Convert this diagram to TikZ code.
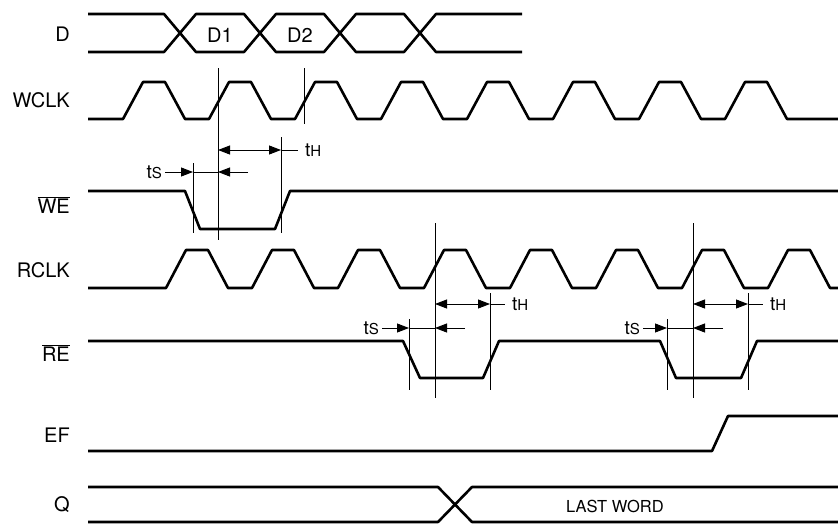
\documentclass[tikz,border=0pt]{standalone}
\usepackage{fontspec}
\setmainfont{TeX Gyre Heros}
\usetikzlibrary{arrows.meta}
\tikzset{
  sig/.style={line width=2.6pt, line join=round},
  vline/.style={line width=0.9pt},
  tarrow/.style={line width=0.9pt, -{Triangle[length=12pt,width=9pt]}},
  tboth/.style={line width=0.9pt, {Triangle[length=12pt,width=9pt]}-{Triangle[length=12pt,width=9pt]}},
  lbl/.style={anchor=east, inner sep=0pt, font=\fontsize{20}{22}\selectfont},
  tlbl/.style={inner sep=0pt, font=\fontsize{19}{21}\selectfont},
}
\newcommand{\tSlbl}{t{\fontsize{15}{16}\selectfont S}}
\newcommand{\tHlbl}{t{\fontsize{15}{16}\selectfont H}}
\begin{document}
\begin{tikzpicture}[x=1pt,y=-1pt]
\useasboundingbox (0,0) rectangle (838,525);
\node[lbl] (lD) at (70,34) {D};
\node[lbl] (lW) at (70,100) {WCLK};
\node[lbl] (lWE) at (70,205) {$\overline{\mbox{WE}}$};
\node[lbl] (lR) at (70,270) {RCLK};
\node[lbl] (lRE) at (70,353) {$\overline{\mbox{RE}}$};
\node[lbl] (lEF) at (70,435) {EF};
\node[lbl] (lQ) at (70,505) {Q};

\draw[sig] (88,14) -- (164,14) -- (196,52) -- (244,52) -- (276,14) -- (324,14) -- (356,52) -- (404,52) -- (436,14) -- (522,14);
\draw[sig] (88,52) -- (164,52) -- (196,14) -- (244,14) -- (276,52) -- (324,52) -- (356,14) -- (404,14) -- (436,52) -- (522,52);
\node[tlbl, font=\fontsize{20}{22}\selectfont] (d1) at (220,35) {D1};
\node[tlbl, font=\fontsize{20}{22}\selectfont] (d2) at (300,35) {D2};

\draw[sig] (88,119) foreach \x in {123,209,...,725} { -- (\x,119) -- (\x+20,82) -- (\x+42,82) -- (\x+62,119) } -- (838,119);
\draw[sig] (88,191) -- (185,191) -- (200,229) -- (275,229) -- (290,191) -- (838,191);
\draw[sig] (88,288) foreach \x in {166,252,...,768} { -- (\x,288) -- (\x+20,250) -- (\x+42,250) -- (\x+62,288) } -- (838,288);
\draw[sig] (88,341) -- (403,341) -- (420,378) -- (483,378) -- (499,341) -- (660,341) -- (676,378) -- (741,378) -- (757,341) -- (838,341);
\draw[sig] (88,451) -- (712,451) -- (728,416) -- (838,416);
\draw[sig] (88,487) -- (438,487) -- (472,522) -- (838,522);
\draw[sig] (88,522) -- (438,522) -- (472,487) -- (838,487);
\node[tlbl, font=\fontsize{16.5}{18}\selectfont] (lw) at (615,506) {LAST WORD};

\coordinate (w1) at (193,163);
\coordinate (w2) at (218,68);
\coordinate (w3) at (281,137);
\coordinate (w4) at (304,68);
\draw[vline] (w1) -- ++(0,70);
\draw[vline] (w2) -- ++(0,172);
\draw[vline] (w3) -- ++(0,96);
\draw[vline] (w4) -- ++(0,56);
\coordinate (r1) at (409,319);
\coordinate (r2) at (435,223);
\coordinate (r3) at (490,293);
\coordinate (r4) at (667,319);
\coordinate (r5) at (693,223);
\coordinate (r6) at (748,293);
\draw[vline] (r1) -- ++(0,71);
\draw[vline] (r2) -- ++(0,175);
\draw[vline] (r3) -- ++(0,97);
\draw[vline] (r4) -- ++(0,71);
\draw[vline] (r5) -- ++(0,175);
\draw[vline] (r6) -- ++(0,97);

\node[tlbl, anchor=east] (tsW) at (162,172) {\tSlbl};
\draw[tarrow] ([xshift=3pt]tsW.east) -- (tsW -| w1);
\draw[vline] (tsW -| w1) -- (tsW -| w2);
\draw[tarrow] (tsW -| w2) ++(30,0) -- ++(-30,0);
\node[tlbl, anchor=west] (thW) at (305,150) {\tHlbl};
\draw[tboth] (thW -| w2) -- (thW -| w3);
\draw[vline] (thW -| w3) -- ([xshift=-7pt]thW.west);

\node[tlbl, anchor=east] (tsR1) at (379,328) {\tSlbl};
\draw[tarrow] ([xshift=3pt]tsR1.east) -- (tsR1 -| r1);
\draw[vline] (tsR1 -| r1) -- (tsR1 -| r2);
\draw[tarrow] (tsR1 -| r2) ++(30,0) -- ++(-30,0);
\node[tlbl, anchor=west] (thR1) at (512,304) {\tHlbl};
\draw[tboth] (thR1 -| r2) -- (thR1 -| r3);
\draw[vline] (thR1 -| r3) -- ([xshift=-7pt]thR1.west);

\node[tlbl, anchor=east] (tsR2) at (640,328) {\tSlbl};
\draw[tarrow] ([xshift=3pt]tsR2.east) -- (tsR2 -| r4);
\draw[vline] (tsR2 -| r4) -- (tsR2 -| r5);
\draw[tarrow] (tsR2 -| r5) ++(30,0) -- ++(-30,0);
\node[tlbl, anchor=west] (thR2) at (770,304) {\tHlbl};
\draw[tboth] (thR2 -| r5) -- (thR2 -| r6);
\draw[vline] (thR2 -| r6) -- ([xshift=-7pt]thR2.west);
\end{tikzpicture}
\end{document}
